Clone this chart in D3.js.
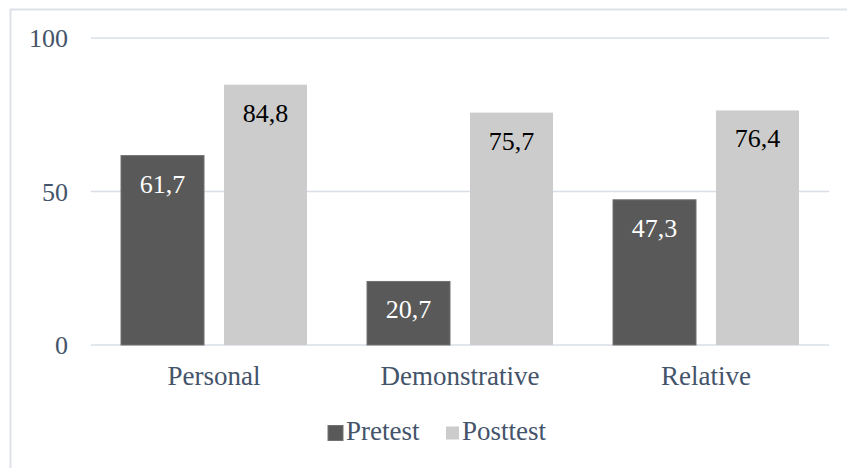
<!DOCTYPE html>
<html>
<head>
<meta charset="utf-8">
<script src="https://cdn.jsdelivr.net/npm/d3@7"></script>
<style>
  body { margin: 0; background: #fff; font-family: "Times New Roman", "Liberation Serif", Tinos, serif; }
  #chart text { font-family: "Times New Roman", "Liberation Serif", Tinos, serif !important; }
</style>
</head>
<body>
<svg id="chart" width="847" height="468"></svg>
<script>
// Data
let categories = ["Personal", "Demonstrative", "Relative"];
let seriesNames = ["Pretest", "Posttest"];
let pretest = [61.7, 20.7, 47.3];
let posttest = [84.8, 75.7, 76.4];
let yTicks = [0, 50, 100];

let colours = { Pretest: "#595959", Posttest: "#cccccc" };
let labelColours = { Pretest: "#ffffff", Posttest: "#000000" };
let textColour = "#44546a";
let fontFamily = "'Times New Roman'";

let svg = d3.select("#chart");

// frame (only top + left edges visible in the crop)
svg.append("path")
    .attr("d", "M10.5,470 L10.5,9.5 L850,9.5")
    .attr("fill", "none")
    .attr("stroke", "#dde2ea")
    .attr("stroke-width", 2);

let plotLeft = 91, plotRight = 829, plotTop = 38, plotBottom = 345;

let x0 = d3.scaleBand().domain(categories).range([plotLeft, plotRight]).paddingInner(0).paddingOuter(0);
let x1 = d3.scaleBand().domain(seriesNames)
    .range([30, x0.bandwidth() - 30])
    .paddingInner(0.194);
let y = d3.scaleLinear().domain([0, 100]).range([plotBottom, plotTop]);

// gridlines
svg.append("g").selectAll("line")
    .data(yTicks)
    .enter()
    .append("line")
    .attr("x1", plotLeft).attr("x2", plotRight)
    .attr("y1", d => y(d)).attr("y2", d => y(d))
    .attr("stroke", "#d9dee7")
    .attr("stroke-width", 1.5);

// y tick labels
svg.append("g").selectAll("text")
    .data(yTicks)
    .enter()
    .append("text")
    .attr("x", 68)
    .attr("y", d => y(d))
    .attr("dy", "0.35em")
    .attr("text-anchor", "end")
    .style("font-family", fontFamily)
    .attr("font-size", 26)
    .attr("fill", textColour)
    .text(d => d);

let rows = categories.map((c, i) => ({
    category: c,
    values: [
        { series: "Pretest", value: pretest[i] },
        { series: "Posttest", value: posttest[i] }
    ]
}));

let groups = svg.append("g").selectAll("g")
    .data(rows)
    .enter()
    .append("g")
    .attr("transform", d => "translate(" + x0(d.category) + ",0)");

groups.selectAll("rect")
    .data(d => d.values)
    .enter()
    .append("rect")
    .attr("x", d => x1(d.series))
    .attr("width", x1.bandwidth())
    .attr("y", d => y(d.value))
    .attr("height", d => y(0) - y(d.value))
    .attr("fill", d => colours[d.series])
    .attr("stroke", d => d.series === "Pretest" ? "#767171" : "none")
    .attr("stroke-width", 1);

groups.selectAll("text")
    .data(d => d.values)
    .enter()
    .append("text")
    .attr("x", d => x1(d.series) + x1.bandwidth() / 2)
    .attr("y", d => y(d.value) + 37)
    .attr("text-anchor", "middle")
    .style("font-family", fontFamily)
    .attr("font-size", 26)
    .attr("fill", d => labelColours[d.series])
    .text(d => d.value.toFixed(1).replace(".", ","));

// category labels
svg.append("g").selectAll("text")
    .data(categories)
    .enter()
    .append("text")
    .attr("x", d => x0(d) + x0.bandwidth() / 2)
    .attr("y", 385)
    .attr("text-anchor", "middle")
    .style("font-family", fontFamily)
    .attr("font-size", 27)
    .attr("fill", textColour)
    .text(d => d);

// legend
let legendItems = [
    { name: "Pretest", x: 328, size: 15 },
    { name: "Posttest", x: 446, size: 13 }
];
let legend = svg.append("g").selectAll("g")
    .data(legendItems)
    .enter()
    .append("g");
legend.append("rect")
    .attr("x", d => d.x)
    .attr("y", d => 433 - d.size / 2)
    .attr("width", d => d.size)
    .attr("height", d => d.size)
    .attr("fill", d => colours[d.name])
    .attr("stroke", d => d.name === "Pretest" ? "#767171" : "none");
legend.append("text")
    .attr("x", d => d.x + d.size + 3)
    .attr("y", 440)
    .style("font-family", fontFamily)
    .attr("font-size", 27)
    .attr("fill", textColour)
    .text(d => d.name);
</script>
</body>
</html>
